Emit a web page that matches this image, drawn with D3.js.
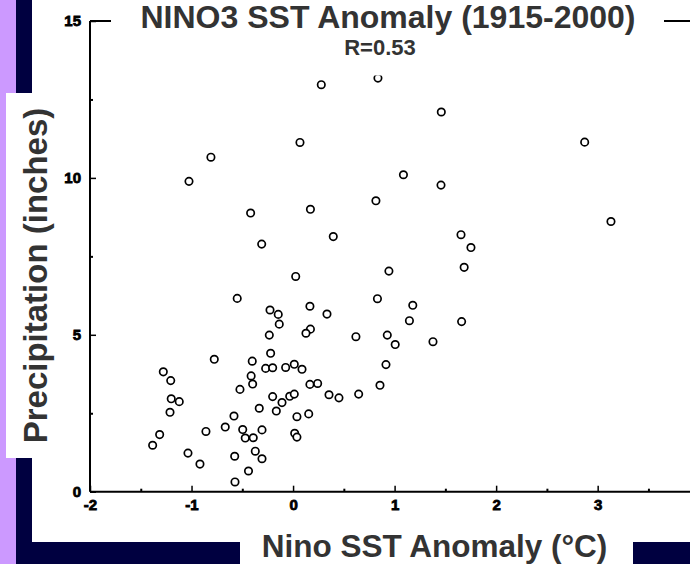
<!DOCTYPE html>
<html>
<head>
<meta charset="utf-8">
<script src="https://cdn.jsdelivr.net/npm/d3@7"></script>
<style>
  html, body { margin: 0; padding: 0; background: #fff; }
  svg { display: block; }
</style>
</head>
<body>
<svg id="chart" width="690" height="564"></svg>
<script>
// ---- Data ----
const titleText = "NINO3 SST Anomaly (1915-2000)";
const corrText = "R=0.53";
const xLabel = "Nino SST Anomaly (°C)";
const yLabel = "Precipitation (inches)";

const xTicks = [-2, -1, 0, 1, 2, 3];
const xMinorTicks = [-1.5, -0.5, 0.5, 1.5, 2.5, 3.5];
const yTicks = [0, 5, 10, 15];
const yMinorTicks = [2.5, 7.5, 12.5];

// NINO3 SST anomaly (°C) for each year
const sstAnomaly = [
  0.278, 0.836, 1.46, 0.068, 2.872, 1.087, 1.457, 0.816, 0.171, 0.396,
  3.131, 1.654, 1.752, 1.685, 0.026, 0.944, 0.831, 1.179, 0.166, 0.334,
  0.171, 0.127, 0.619, 0.928, 1.006, 1.378, 1.146, 1.660, 0.915, 0.856,
  -0.227, -0.146, -0.136, -0.234, -0.221, -0.402, -0.270, -0.201, -0.073, 0.012,
  0.088, -0.413, -0.398, 0.166, 0.242, -0.201, -0.033, 0.012, -0.109, 0.354,
  0.452, 0.646, -0.333, -0.165, 0.038, 0.154, -0.306, -0.392, 0.016, 0.038,
  -0.372, -0.306, -0.550, -0.776, -0.523, -1.278, -1.205, -1.200, -1.121, -1.212,
  -0.582, -0.668, -0.496, -0.471, -0.858, -1.314, -1.383, -1.035, -0.917, -0.575,
  -0.439, -0.572, -0.809, -1.025, -0.418, -0.309
];
// Precipitation (inches) for each year
const precipitation = [
  12.97, 13.18, 12.10, 11.13, 11.14, 10.10, 9.77, 9.27, 9.00, 8.13,
  8.61, 8.19, 7.78, 7.15, 6.86, 7.03, 6.15, 5.94, 5.91, 5.66,
  5.18, 5.05, 4.94, 4.99, 4.69, 4.78, 5.45, 5.42, 4.05, 3.39,
  5.79, 5.65, 5.34, 4.99, 4.41, 4.16, 3.93, 3.95, 3.96, 4.06,
  3.90, 3.69, 3.43, 3.42, 3.45, 3.03, 3.04, 3.11, 2.84, 3.09,
  2.99, 3.11, 2.66, 2.57, 2.39, 2.48, 1.97, 1.72, 1.86, 1.74,
  1.29, 1.05, 6.16, 4.22, 3.26, 3.82, 3.54, 2.96, 2.87, 2.53,
  2.41, 2.06, 1.98, 1.71, 1.92, 1.82, 1.48, 1.23, 0.88, 1.13,
  0.66, 0.31, 10.66, 9.89, 8.88, 7.89
];

// ---- Drawing ----
const svg = d3.select("#chart");
const W = 690, H = 564;
const navy = "#000040", lilac = "#cc99ff", textGray = "#333333";

// Decorative slide background
svg.append("rect").attr("x", 0).attr("y", 0).attr("width", W).attr("height", H).attr("fill", "#fff");
svg.append("rect").attr("x", 0).attr("y", 0).attr("width", 16).attr("height", H).attr("fill", lilac);
svg.append("rect").attr("x", 16).attr("y", 0).attr("width", 16).attr("height", H).attr("fill", navy);
svg.append("rect").attr("x", 16).attr("y", 542).attr("width", W - 16).attr("height", 22).attr("fill", navy);

// White label boxes
svg.append("rect").attr("x", 6).attr("y", 93).attr("width", 56).attr("height", 365).attr("fill", "#fff");
svg.append("rect").attr("x", 240).attr("y", 528).attr("width", 393).attr("height", 36).attr("fill", "#fff");

const x = d3.scaleLinear().domain([-2, 4]).range([90, 699.2]);
const y = d3.scaleLinear().domain([0, 15]).range([491.7, 21]);

const tickFont = g => g.selectAll("text")
  .attr("font-family", "'Liberation Sans', Arial, sans-serif")
  .attr("font-weight", "bold")
  .attr("font-size", 15)
  .attr("fill", "#000")
  .attr("stroke", "#000")
  .attr("stroke-width", 0.8);

const plainFormat = d => String(d);

// Points (drawn first so label backgrounds may clip them like in the reference)
const pts = sstAnomaly.map((v, i) => ({ sst: v, p: precipitation[i] }));
svg.append("g").selectAll("circle").data(pts).join("circle")
  .attr("cx", d => x(d.sst))
  .attr("cy", d => y(d.p))
  .attr("r", 3.7)
  .attr("fill", "#fff")
  .attr("stroke", "#000")
  .attr("stroke-width", 1.7);

// Top frame line
svg.append("line").attr("x1", 90).attr("x2", W).attr("y1", y(15)).attr("y2", y(15))
  .attr("stroke", "#000").attr("stroke-width", 2);

// X axis
const gx = svg.append("g").attr("transform", `translate(0,${y(0)})`)
  .call(d3.axisBottom(x).tickValues(xTicks).tickSize(-6).tickPadding(8).tickFormat(plainFormat));
gx.select(".domain").attr("stroke-width", 2).attr("d", `M90,0H${W}`);
gx.selectAll(".tick line").attr("stroke-width", 1.5);
tickFont(gx);
svg.append("g").attr("transform", `translate(0,${y(0)})`)
  .call(d3.axisBottom(x).tickValues(xMinorTicks).tickSize(-3).tickFormat(""))
  .call(g => g.select(".domain").remove())
  .selectAll(".tick line").attr("stroke-width", 2);

// Y axis
const gy = svg.append("g").attr("transform", `translate(90,0)`)
  .call(d3.axisLeft(y).tickValues(yTicks).tickSize(-6).tickPadding(9).tickFormat(plainFormat));
gy.select(".domain").attr("stroke-width", 2).attr("d", `M0,${y(0)}V${y(15)}`);
gy.selectAll(".tick line").attr("stroke-width", 1.5);
tickFont(gy);
svg.append("g").attr("transform", `translate(90,0)`)
  .call(d3.axisLeft(y).tickValues(yMinorTicks).tickSize(-3).tickFormat(""))
  .call(g => g.select(".domain").remove())
  .selectAll(".tick line").attr("stroke-width", 2);

// Title with white background
svg.append("rect").attr("x", 111).attr("y", 0).attr("width", 553).attr("height", 36).attr("fill", "#fff");
svg.append("text").attr("x", 388).attr("y", 28).attr("text-anchor", "middle")
  .attr("font-family", "'Liberation Sans', Arial, sans-serif").attr("font-weight", "bold")
  .attr("font-size", 32).attr("fill", textGray).text(titleText);

// Correlation label with white background
svg.append("rect").attr("x", 340).attr("y", 36).attr("width", 80).attr("height", 39.5).attr("fill", "#fff");
svg.append("text").attr("x", 380).attr("y", 55).attr("text-anchor", "middle")
  .attr("font-family", "'Liberation Sans', Arial, sans-serif").attr("font-weight", "bold")
  .attr("font-size", 22).attr("fill", textGray).text(corrText);

// Axis titles
svg.append("text").attr("x", 434.5).attr("y", 556.5).attr("text-anchor", "middle")
  .attr("font-family", "'Liberation Sans', Arial, sans-serif").attr("font-weight", "bold")
  .attr("font-size", 31.5).attr("fill", textGray).text(xLabel);

svg.append("text").attr("transform", "translate(47,275.5) rotate(-90)").attr("text-anchor", "middle")
  .attr("font-family", "'Liberation Sans', Arial, sans-serif").attr("font-weight", "bold")
  .attr("font-size", 33).attr("fill", textGray).text(yLabel);
</script>
</body>
</html>
